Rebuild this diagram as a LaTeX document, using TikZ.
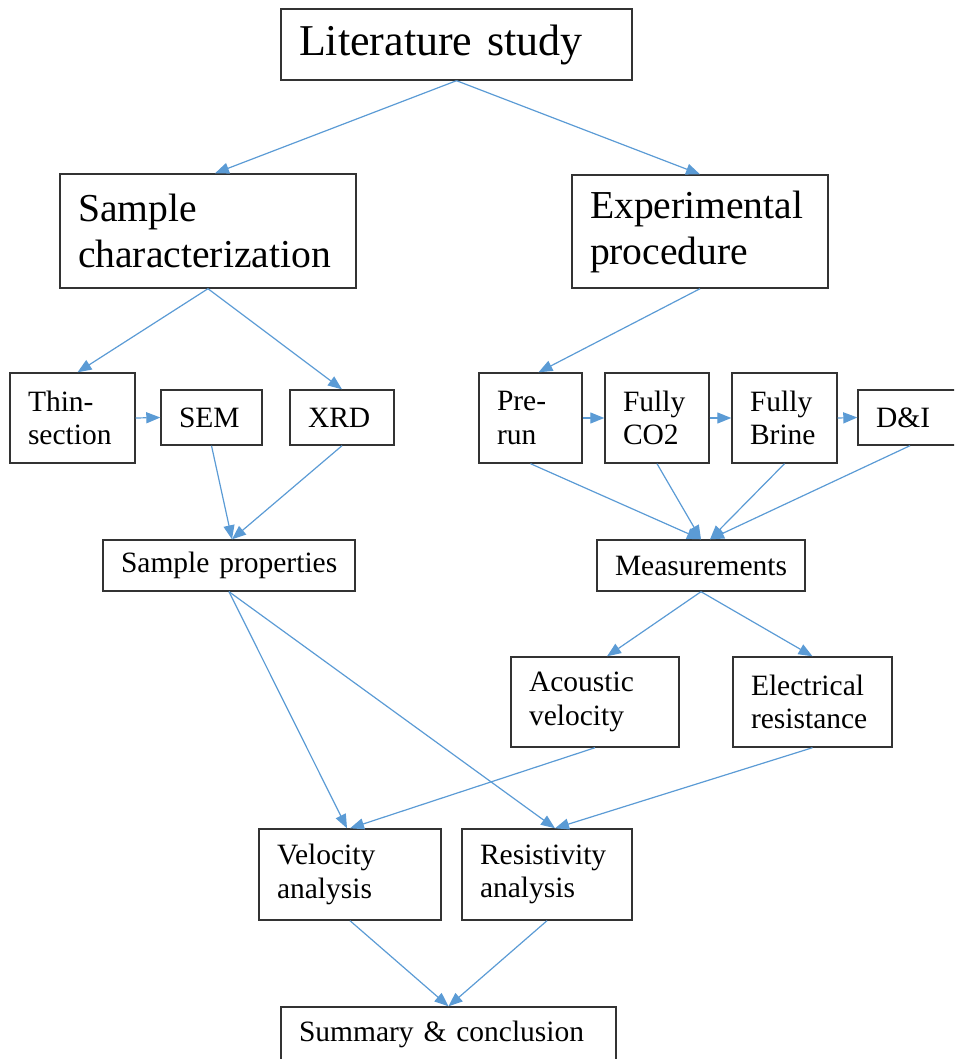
\documentclass[tikz,border=0pt]{standalone}
\usepackage{fontspec}
\setmainfont{Liberation Serif}
\usetikzlibrary{arrows.meta,calc}
\definecolor{arrowblue}{RGB}{91,155,213}
\begin{document}
\begin{tikzpicture}[x=0.5pt,y=-0.5pt,
    box/.style={draw=black!80, line width=0.7pt, align=left, inner xsep=9pt, inner ysep=0pt,
        execute at begin node={\hyphenpenalty=10000\relax}},
    huge/.style={font=\fontsize{22}{26}\selectfont},
    large/.style={font=\fontsize{19.8}{23}\selectfont},
    small/.style={font=\fontsize{14.75}{16.75}\selectfont},
    arr/.style={draw=arrowblue, line width=0.6pt, -{Triangle[length=7pt,width=5.5pt]}}]
            \clip (0,0) rectangle (954,1059);
            %Literature
            \node [box, huge, text width=157.5pt, minimum height=35.5pt]
            (lit)at(456.5,44.5){Literature~study};
            %Sample characterization
            \node [box, large, text width=130pt, minimum height=57pt]
            (samp)at(208,231){Sample\\characterization};
            %Experimental procedure
            \node [box, large, text width=110pt, minimum height=56.5pt]
            (exp)at(700,231.5){Experimental\\procedure};
            %Thin-section, SEM, XRD
            \node [box, small, text width=44.5pt, minimum height=45pt]
            (thin)at(72.5,418){Thin-\\section};
            \node [box, small, text width=32.5pt, minimum height=27.5pt]
            (sem)at(211.5,417.5){SEM};
            \node [box, small, text width=34pt, minimum height=27.5pt]
            (xrd)at(342,417.5){XRD};
            %Sample properties
            \node [box, small, text width=108pt, minimum height=25.5pt]
            (prop)at(229,565.5){Sample~properties};
            %Runs
            \node [box, small, text width=33.5pt, minimum height=45pt]
            (pre)at(530.5,418){Pre-\\run};
            \node [box, small, text width=34pt, minimum height=45pt]
            (co2)at(657,418){Fully\\CO2};
            \node [box, small, text width=34.5pt, minimum height=45pt]
            (brine)at(784.5,418){Fully\\Brine};
            \node [box, small, text width=34pt, minimum height=27.5pt]
            (di)at(910,417.5){D\&I};
            %Measurements
            \node [box, small, text width=86pt, minimum height=25.5pt]
            (meas)at(701,565.5){Measurements};
            \node [box, small, text width=66pt, minimum height=45pt]
            (aco)at(595,702){Acoustic\\velocity};
            \node [box, small, text width=61.5pt, minimum height=45pt]
            (ele)at(812.5,702){Electrical\\resistance};
            %Analysis
            \node [box, small, text width=73pt, minimum height=45.5pt]
            (vel)at(350,874.5){Velocity\\analysis};
            \node [box, small, text width=67pt, minimum height=45.5pt]
            (res)at(547,874.5){Resistivity\\analysis};
            %Summary
            \node [box, small, text width=149.5pt, minimum height=27.5pt]
            (sum)at(448.5,1034.5){Summary~\&~conclusion};

            \draw [arr](lit.south)--($(samp.north)+(7,0)$);
            \draw [arr](lit.south)--(exp.north);
            \draw [arr](samp.south)--($(thin.north)+(5,0)$);
            \draw [arr](samp.south)--(xrd.north);
            \draw [arr](thin.east)--(sem.west);
            \draw [arr](sem.south)--($(prop.north)+(3,0)$);
            \draw [arr](xrd.south)--($(prop.north)+(3,0)$);
            \draw [arr](exp.south)--($(pre.north)+(8,0)$);
            \draw [arr](pre.east)--(co2.west);
            \draw [arr](co2.east)--(brine.west);
            \draw [arr](brine.east)--(di.west);
            \draw [arr](pre.south)--(meas.north);
            \draw [arr](co2.south)--(meas.north);
            \draw [arr](brine.south)--($(meas.north)+(9,0)$);
            \draw [arr](di.south)--($(meas.north)+(9,0)$);
            \draw [arr](meas.south)--($(aco.north)+(12,0)$);
            \draw [arr](meas.south)--(ele.north);
            \draw [arr](prop.south)--($(vel.north)+(-3,0)$);
            \draw [arr](prop.south)--($(res.north)+(8,0)$);
            \draw [arr](aco.south)--(vel.north);
            \draw [arr](ele.south)--($(res.north)+(8,0)$);
            \draw [arr](vel.south)--(sum.north);
            \draw [arr](res.south)--(sum.north);

        \end{tikzpicture}
\end{document}
